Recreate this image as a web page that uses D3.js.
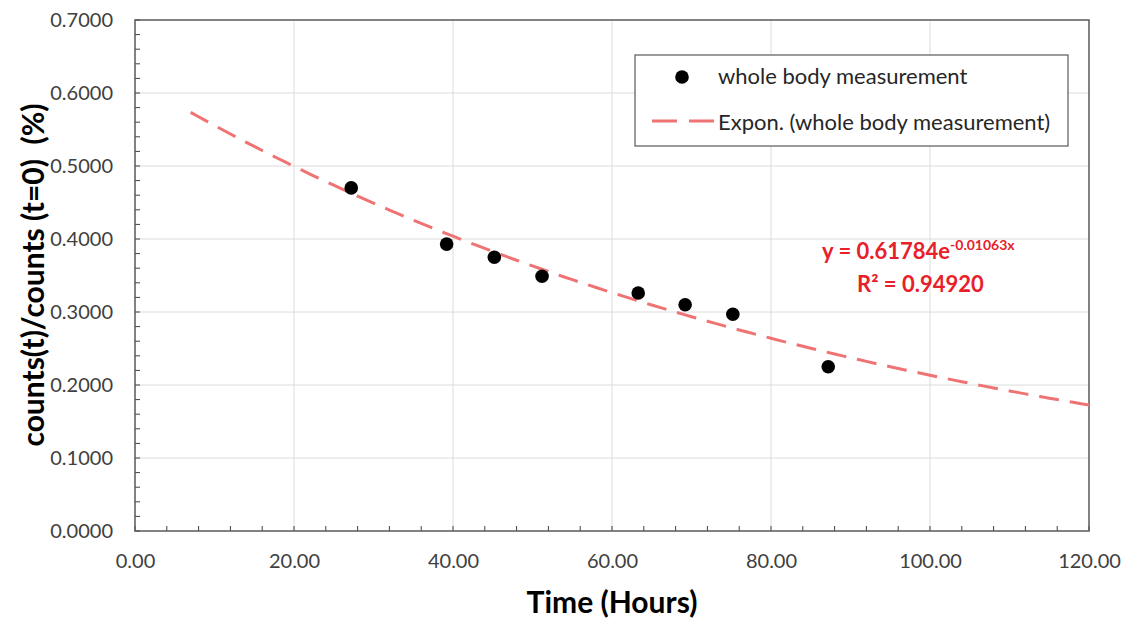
<!DOCTYPE html>
<html>
<head>
<meta charset="utf-8">
<script src="https://cdn.jsdelivr.net/npm/d3@7"></script>
<style>
  body { margin: 0; background: #fff; }
  text { font-family: Lato, Carlito, sans-serif; }
</style>
</head>
<body>
<div id="chart"></div>
<script>
// measured points
const hours = [27.2, 39.2, 45.2, 51.2, 63.3, 69.2, 75.2, 87.2]
const ratio = [0.470, 0.393, 0.375, 0.349, 0.326, 0.310, 0.297, 0.225]

// fitted trendline, as printed on the chart
const fitA = 0.61784
const fitB = -0.01063
const fitR2 = 0.94920
const fitStart = 7
const fitEnd = 120

const xTicks = [0, 20, 40, 60, 80, 100, 120]
const yTicks = [0, 0.1, 0.2, 0.3, 0.4, 0.5, 0.6, 0.7]

const width = 1128
const height = 624
const margin = { top: 20, right: 39, bottom: 93, left: 135 }
const innerW = width - margin.left - margin.right
const innerH = height - margin.top - margin.bottom

const svg = d3.select('#chart')
  .append('svg')
  .attr('width', width)
  .attr('height', height)

const g = svg.append('g')
  .attr('transform', `translate(${margin.left}, ${margin.top})`)

const x = d3.scaleLinear().domain([0, 120]).range([0, innerW])
const y = d3.scaleLinear().domain([0, 0.7]).range([innerH, 0])

// gridlines
g.append('g')
  .selectAll('line')
  .data(yTicks.slice(1, -1))
  .join('line')
  .attr('x1', 0).attr('x2', innerW)
  .attr('y1', d => y(d)).attr('y2', d => y(d))
  .attr('stroke', '#dcdcdc')
g.append('g')
  .selectAll('line')
  .data(xTicks.slice(1, -1))
  .join('line')
  .attr('x1', d => x(d)).attr('x2', d => x(d))
  .attr('y1', 0).attr('y2', innerH)
  .attr('stroke', '#dcdcdc')

// minor ticks (inside)
const xMinor = d3.range(0, 121, 4)
const yMinor = d3.range(0, 71, 2).map(d => d / 100)
g.append('g')
  .selectAll('line')
  .data(xMinor)
  .join('line')
  .attr('x1', d => x(d)).attr('x2', d => x(d))
  .attr('y1', innerH).attr('y2', innerH - 5)
  .attr('stroke', '#404040')
g.append('g')
  .selectAll('line')
  .data(yMinor)
  .join('line')
  .attr('x1', 0).attr('x2', 5)
  .attr('y1', d => y(d)).attr('y2', d => y(d))
  .attr('stroke', '#404040')

// frame
g.append('rect')
  .attr('width', innerW)
  .attr('height', innerH)
  .attr('fill', 'none')
  .attr('stroke', '#595959')
  .attr('stroke-width', 1.5)

// tick labels via axes
const xAxis = d3.axisBottom(x).tickValues(xTicks).tickSize(0).tickPadding(23)
  .tickFormat(d3.format('.2f'))
const yAxis = d3.axisLeft(y).tickValues(yTicks).tickSize(0).tickPadding(22)
  .tickFormat(d3.format('.4f'))

const xAxisG = g.append('g')
  .attr('transform', `translate(0, ${innerH})`)
  .call(xAxis)
const yAxisG = g.append('g').call(yAxis)
;[xAxisG, yAxisG].forEach(a => {
  a.select('.domain').remove()
  a.selectAll('text')
    .attr('font-size', 20)
    .attr('fill', '#404040')
    .style('font-family', 'Lato, Carlito, sans-serif')
})

// trendline
const fitPts = d3.range(fitStart, fitEnd + 0.01, 1).map(t => [t, fitA * Math.exp(fitB * t)])
const line = d3.line().x(d => x(d[0])).y(d => y(d[1]))
g.append('path')
  .datum(fitPts)
  .attr('d', line)
  .attr('fill', 'none')
  .attr('stroke', '#f07373')
  .attr('stroke-width', 3)
  .attr('stroke-dasharray', '20,11')

// points
g.append('g')
  .selectAll('circle')
  .data(hours.map((h, i) => [h, ratio[i]]))
  .join('circle')
  .attr('cx', d => x(d[0]))
  .attr('cy', d => y(d[1]))
  .attr('r', 6.8)
  .attr('fill', '#000')

// equation
const eq = svg.append('text')
  .attr('x', 822)
  .attr('y', 259)
  .attr('fill', '#e8202a')
  .attr('font-weight', 'bold')
  .attr('font-size', 22)
eq.append('tspan').text(`y = ${fitA}e`)
eq.append('tspan')
  .attr('dy', -9)
  .attr('font-size', 14)
  .text(`${fitB}x`)
svg.append('text')
  .attr('x', 857)
  .attr('y', 292)
  .attr('fill', '#e8202a')
  .attr('font-weight', 'bold')
  .attr('font-size', 22)
  .text(`R² = ${fitR2.toFixed(5)}`)

// legend
const lg = svg.append('g').attr('transform', 'translate(635, 55)')
lg.append('rect')
  .attr('width', 433)
  .attr('height', 91)
  .attr('fill', '#fff')
  .attr('stroke', '#595959')
  .attr('stroke-width', 1.2)
lg.append('circle').attr('cx', 47).attr('cy', 22).attr('r', 6.8).attr('fill', '#000')
lg.append('text').attr('x', 83).attr('y', 29).attr('font-size', 22).attr('fill', '#262626')
  .text('whole body measurement')
lg.append('line')
  .attr('x1', 17).attr('x2', 81).attr('y1', 66).attr('y2', 66)
  .attr('stroke', '#f07373').attr('stroke-width', 3)
  .attr('stroke-dasharray', '25,12')
lg.append('text').attr('x', 83).attr('y', 75).attr('font-size', 22).attr('fill', '#262626')
  .text('Expon. (whole body measurement)')

// axis titles
svg.append('text')
  .attr('x', 612)
  .attr('y', 613)
  .attr('text-anchor', 'middle')
  .attr('font-weight', 'bold')
  .attr('font-size', 30)
  .attr('fill', '#000')
  .text('Time (Hours)')
svg.append('text')
  .attr('transform', `translate(44, 275) rotate(-90)`)
  .attr('text-anchor', 'middle')
  .attr('font-weight', 'bold')
  .attr('font-size', 30)
  .attr('fill', '#000')
  .attr('xml:space', 'preserve')
  .style('white-space', 'pre')
  .text('counts(t)/counts (t=0)  (%)')
</script>
</body>
</html>
